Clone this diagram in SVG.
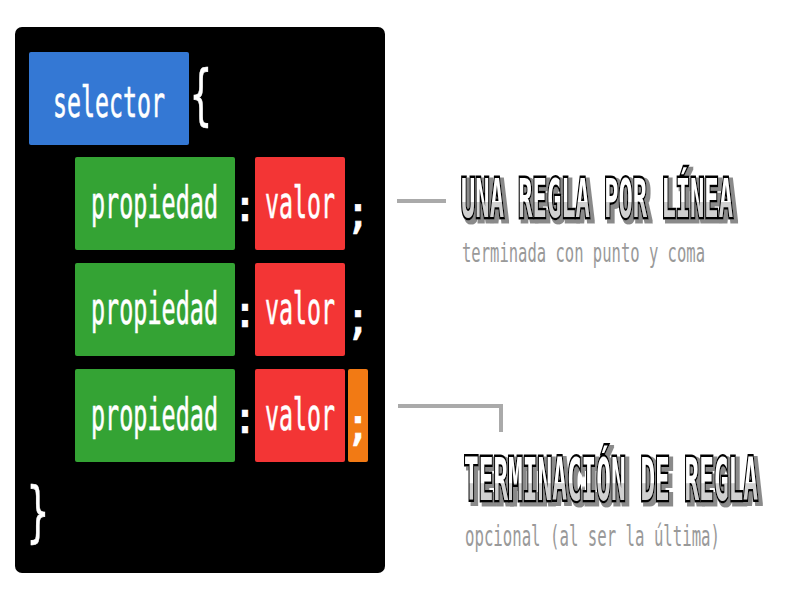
<svg xmlns="http://www.w3.org/2000/svg" width="800" height="600" viewBox="0 0 800 600">
<defs>
<linearGradient id="tg" x1="0" y1="0" x2="0" y2="1">
<stop offset="0" stop-color="#ffffff"/>
<stop offset="0.55" stop-color="#ffffff"/>
<stop offset="0.56" stop-color="#d0d0d0"/>
<stop offset="1" stop-color="#d0d0d0"/>
</linearGradient>
<filter id="sh" x="-5%" y="-20%" width="115%" height="150%">
<feMorphology in="SourceAlpha" operator="dilate" radius="1" result="d"/>
<feOffset in="d" dx="3" dy="3" result="o"/>
<feFlood flood-color="#8a8a8a"/>
<feComposite in2="o" operator="in" result="s"/>
<feMerge><feMergeNode in="s"/><feMergeNode in="SourceGraphic"/></feMerge>
</filter>
<style>
.code{font-family:"DejaVu Sans Mono","Liberation Mono",monospace;fill:#ffffff;stroke:#ffffff;stroke-width:0.6}
.title{font-family:"DejaVu Sans Mono","Liberation Mono",monospace;font-weight:bold;text-transform:uppercase;fill:url(#tg);stroke:#000;stroke-width:5;paint-order:stroke;stroke-linejoin:miter}
.sub{font-family:"DejaVu Sans Mono","Liberation Mono",monospace;fill:#999999}
.conn{fill:none;stroke:#aaaaaa;stroke-width:4}
</style>
</defs>
<rect x="0" y="0" width="800" height="600" fill="#ffffff"/>
<g id="panel">
<rect x="15" y="27" width="370" height="546" rx="7" fill="#000000"/>
</g>
<g id="selector">
<rect x="29" y="52" width="160" height="93" rx="2" fill="#3478d4"/>
<text class="code" x="53" y="117" font-size="42" textLength="112" lengthAdjust="spacingAndGlyphs">selector</text>
</g>
<g id="brace-open"><text class="code" x="201" y="117" font-size="66" text-anchor="middle" transform="translate(201 0) scale(0.55 1) translate(-201 0)">{</text></g>
<g id="rule1">
<rect x="75" y="157" width="160" height="93" rx="2" fill="#34a334"/>
<text class="code" x="91" y="218" font-size="44" textLength="127" lengthAdjust="spacingAndGlyphs">propiedad</text>
<text class="code" x="245" y="221" font-size="44" text-anchor="middle">:</text>
<rect x="255" y="157" width="90" height="93" rx="2" fill="#f33535"/>
<text class="code" x="265" y="218" font-size="44" textLength="70" lengthAdjust="spacingAndGlyphs">valor</text>
<text class="code" x="358" y="228" font-size="44" text-anchor="middle">;</text>
</g>
<g id="rule2">
<rect x="75" y="263" width="160" height="93" rx="2" fill="#34a334"/>
<text class="code" x="91" y="324" font-size="44" textLength="127" lengthAdjust="spacingAndGlyphs">propiedad</text>
<text class="code" x="245" y="327" font-size="44" text-anchor="middle">:</text>
<rect x="255" y="263" width="90" height="93" rx="2" fill="#f33535"/>
<text class="code" x="265" y="324" font-size="44" textLength="70" lengthAdjust="spacingAndGlyphs">valor</text>
<text class="code" x="358" y="334" font-size="44" text-anchor="middle">;</text>
</g>
<g id="rule3">
<rect x="75" y="369" width="160" height="93" rx="2" fill="#34a334"/>
<text class="code" x="91" y="430" font-size="44" textLength="127" lengthAdjust="spacingAndGlyphs">propiedad</text>
<text class="code" x="245" y="433" font-size="44" text-anchor="middle">:</text>
<rect x="255" y="369" width="90" height="93" rx="2" fill="#f33535"/>
<text class="code" x="265" y="430" font-size="44" textLength="70" lengthAdjust="spacingAndGlyphs">valor</text>
<rect x="348" y="369" width="20" height="93" rx="2" fill="#f27a14"/>
<text class="code" x="358" y="440" font-size="44" text-anchor="middle">;</text>
</g>
<g id="brace-close"><text class="code" x="38" y="534" font-size="66" text-anchor="middle" transform="translate(38 0) scale(0.55 1) translate(-38 0)">}</text></g>
<g id="connectors">
<path class="conn" d="M397 201 H446"/>
<path class="conn" d="M398 406 H501 V432"/>
</g>
<g id="label1">
<text class="title" x="461" y="217" font-size="54" filter="url(#sh)" textLength="272" lengthAdjust="spacingAndGlyphs">una regla por línea</text>
<text class="sub" x="462" y="262" font-size="27" textLength="243" lengthAdjust="spacingAndGlyphs">terminada con punto y coma</text>
</g>
<g id="label2">
<text class="title" x="464" y="500" font-size="58" filter="url(#sh)" textLength="294" lengthAdjust="spacingAndGlyphs">terminación de regla</text>
<text class="sub" x="465" y="546" font-size="28" textLength="255" lengthAdjust="spacingAndGlyphs">opcional (al ser la última)</text>
</g>
</svg>
